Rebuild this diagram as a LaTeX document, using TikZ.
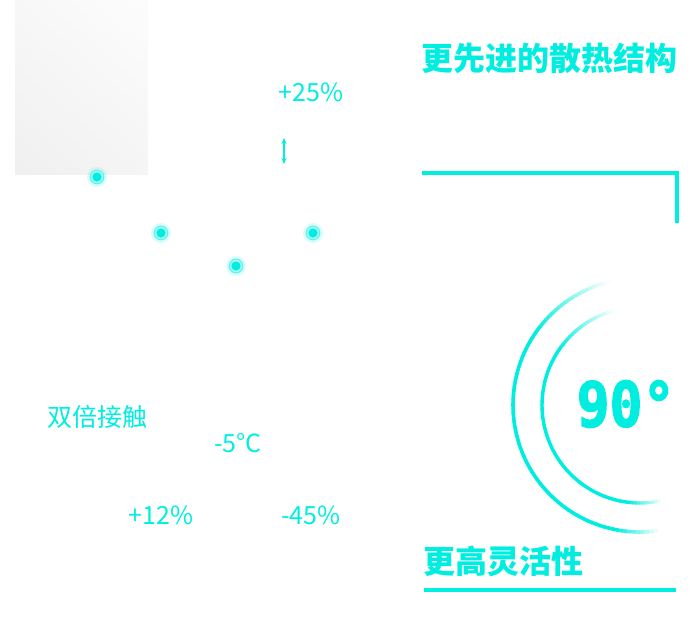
\documentclass[tikz,border=0pt]{standalone}
\usepackage{fontspec}
\setmainfont{Noto Sans CJK SC}
\newfontfamily\digitfont[BoldFeatures={FakeBold=2.5}]{DejaVu Sans Mono}
\usetikzlibrary{arrows.meta,shadings}
\definecolor{aqua}{RGB}{0,238,224}

\begin{document}
\begin{tikzpicture}[x=1pt,y=-1pt,
  num/.style={text=aqua,font=\fontsize{25}{28}\selectfont,inner sep=0pt},
  headline/.style={text=aqua,font=\fontsize{32}{35}\selectfont\bfseries,inner sep=0pt,anchor=west},
  bar/.style={aqua,line width=4}]
  \useasboundingbox (0,0) rectangle (700,630);
  % grey panel
  \shade[lower left=black!6,upper right=black!1,upper left=black!3,lower right=black!4]
     (15,0) rectangle (148,174);
  % glowing points
  \foreach \n/\x/\y in {a/97/177,b/161/233,c/313/233,d/236/266} {
    \coordinate (dot\n) at (\x,\y);
    \fill[aqua,opacity=0.15] (dot\n) circle (10);
    \fill[aqua!35] (dot\n) circle (7.5);
    \draw[aqua!65,line width=0.9] (dot\n) circle (6.8);
    \fill[aqua] (dot\n) circle (4.6);
  }
  % labels on the left
  \node[num] (up) at (311,92) {+25\%};
  \coordinate (arrtop) at (284,138);
  \coordinate (arrbot) at (284,164);
  \draw[aqua,line width=1.3,{Stealth[length=6pt,width=5pt]}-{Stealth[length=6pt,width=5pt]}] (arrtop) -- (arrbot);
  \node[text=aqua,font=\fontsize{25}{28}\selectfont,inner sep=0pt,anchor=west] (contact) at (47,417) {双倍接触};
  \node[num] (temp) at (238,443) {-5°C};
  \node[num] (gain) at (161,515) {+12\%};
  \node[num] (loss) at (311,515) {-45\%};
  % right column
  \node[headline] (struct) at (421,58) {更先进的散热结构};
  \draw[bar] (422,173) -- (679,173);
  \draw[bar] (677,171) -- (677,223);
  \coordinate (ctr) at (640,405);
  \foreach \a in {80,82,...,254} {
    \pgfmathsetmacro\k{max(0,min(100,min((\a-80)*5,(255-\a)*2.5)))}
    \draw[aqua!\k!white,line width=3.6] ([shift={(\a:127)}]ctr) arc[start angle=\a,end angle=\a+2.4,radius=127];
  }
  \foreach \a in {76,78,...,252} {
    \pgfmathsetmacro\k{max(0,min(100,min((\a-76)*5,(254-\a)*2.5)))}
    \draw[aqua!\k!white,line width=3.4] ([shift={(\a:98)}]ctr) arc[start angle=\a,end angle=\a+2.4,radius=98];
  }
  \node[text=aqua,font=\digitfont\fontsize{62}{62}\selectfont\bfseries,inner sep=0pt,xscale=0.88] (angle) at (626,404) {90°};
  \node[headline] (flex) at (423,561) {更高灵活性};
  \draw[bar] (424,590) -- (676,590);
\end{tikzpicture}
\end{document}
